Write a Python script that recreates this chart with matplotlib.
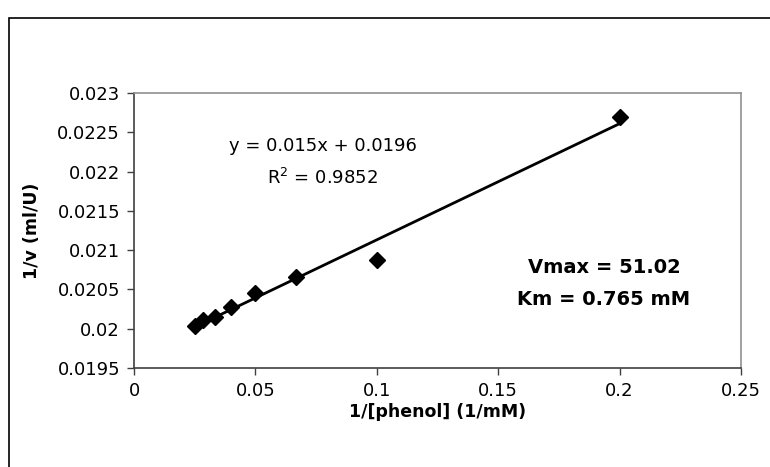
import numpy as np
import matplotlib
matplotlib.use("Agg")
import matplotlib.pyplot as plt
from matplotlib.patches import Rectangle

plt.rcParams['font.family'] = ['DejaVu Sans']

# data (Lineweaver-Burk)
inv_phenol = [0.025, 0.0286, 0.0333, 0.04, 0.05, 0.0667, 0.1, 0.2]
inv_v = [0.02003, 0.02011, 0.02015, 0.02027, 0.02046, 0.02066, 0.02088, 0.0227]
x_ticks = [0, 0.05, 0.1, 0.15, 0.2, 0.25]
x_ticklabels = ['0', '0.05', '0.1', '0.15', '0.2', '0.25']
y_ticks = [0.0195, 0.02, 0.0205, 0.021, 0.0215, 0.022, 0.0225, 0.023]
y_ticklabels = ['0.0195', '0.02', '0.0205', '0.021', '0.0215', '0.022', '0.0225', '0.023']
eq_text = 'y = 0.015x + 0.0196'
r2_text = '$\\mathregular{R^2}$ = 0.9852'
vmax_text = 'Vmax = 51.02'
km_text = 'Km = 0.765 mM'

fig = plt.figure(figsize=(7.7, 4.67), dpi=100)
fig.patches.append(Rectangle((9/770, -0.2), 1.2, 1 - 18/467 + 0.2, transform=fig.transFigure,
                             fill=False, edgecolor='black', linewidth=1.2))

ax = fig.add_axes([134/770, 1 - 368/467, 607/770, 275/467])

# trendline
m, b = np.polyfit(inv_phenol, inv_v, 1)
xs = np.array([min(inv_phenol), max(inv_phenol)])
ax.plot(xs, m * xs + b, color='black', linewidth=2, zorder=2)
ax.plot(inv_phenol, inv_v, linestyle='none', marker='D', markersize=8,
        color='black', zorder=3)

ax.set_xlim(0, 0.25)
ax.set_ylim(0.0195, 0.023)
ax.set_xticks(x_ticks)
ax.set_xticklabels(x_ticklabels)
ax.set_yticks(y_ticks)
ax.set_yticklabels(y_ticklabels)
ax.tick_params(direction='out', length=5, width=1, labelsize=13, pad=5, color='#404040')

for side in ['left', 'bottom']:
    ax.spines[side].set_color('#404040')
    ax.spines[side].set_linewidth(1.2)
for side in ['top', 'right']:
    ax.spines[side].set_color('#909090')
    ax.spines[side].set_linewidth(1.2)

ax.set_xlabel('1/[phenol] (1/mM)', fontsize=12.5, fontweight='bold', labelpad=2)
ax.set_ylabel('1/v (ml/U)', fontsize=12.5, fontweight='bold', labelpad=12)

ax.text(0.0778, 0.022325, eq_text, fontsize=13, ha='center', va='center')
ax.text(0.0778, 0.02192, r2_text, fontsize=13, ha='center', va='center')
ax.text(0.1936, 0.02078, vmax_text, fontsize=14, fontweight='bold', ha='center', va='center')
ax.text(0.1936, 0.02037, km_text, fontsize=14, fontweight='bold', ha='center', va='center')

fig.savefig('out.png', dpi=100)
